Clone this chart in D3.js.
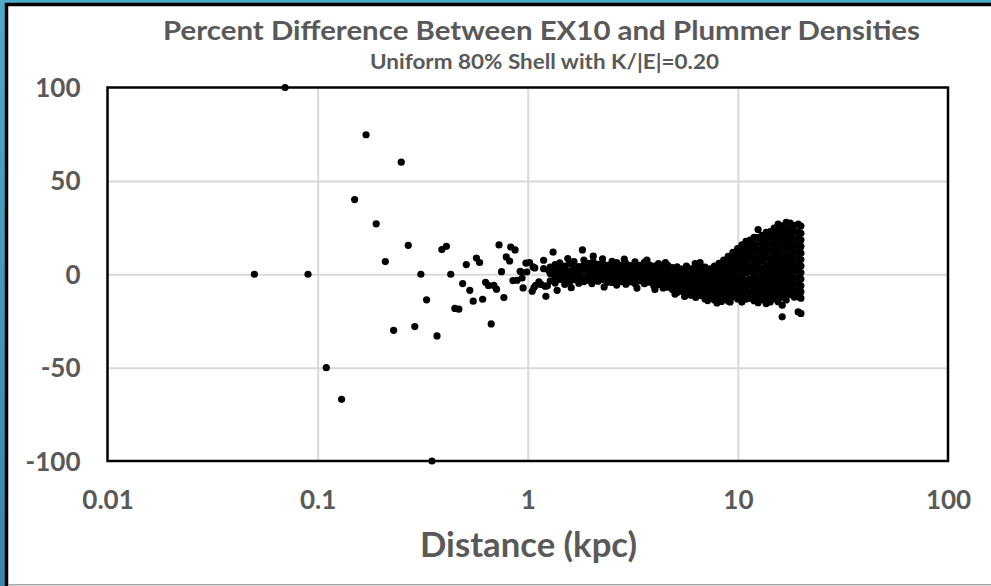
<!DOCTYPE html>
<html>
<head>
<meta charset="utf-8">
<script src="https://cdn.jsdelivr.net/npm/d3@7"></script>
<style>
  html, body { margin: 0; padding: 0; background: #ffffff; }
  svg { display: block; }
</style>
</head>
<body>
<script>
// ---- chart text ----
const titleText = "Percent Difference Between EX10 and Plummer Densities";
const subtitleText = "Uniform 80% Shell with K/|E|=0.20";
const xAxisTitle = "Distance (kpc)";

// ---- axis ticks ----
const xTicks = [0.01, 0.1, 1, 10, 100];
const xTickLabels = ["0.01", "0.1", "1", "10", "100"];
const yTicks = [-100, -50, 0, 50, 100];
const yTickLabels = ["-100", "-50", "0", "50", "100"];

// ---- data: [distance (kpc), percent difference] ----
// sparse inner region
const innerPoints = [
  [0.05, 0], [0.07, 100], [0.09, 0], [0.11, -50], [0.13, -67], [0.15, 40],
  [0.17, 74.7], [0.19, 27], [0.21, 6.8], [0.23, -30], [0.25, 60], [0.27, 15.5],
  [0.29, -28], [0.31, 0], [0.33, -13.7], [0.35, -100], [0.37, -33], [0.39, 13.2],
  [0.41, 15], [0.43, 0], [0.45, -18.3], [0.47, -18.7], [0.49, -5], [0.51, 5.2],
  [0.53, -8.6], [0.55, -14.4], [0.57, 8.7], [0.59, 6.3], [0.61, -13.4], [0.63, -4.3],
  [0.65, -6], [0.67, -26.6], [0.69, -6], [0.71, -8], [0.73, 15.7], [0.75, 1.4],
  [0.77, -12.5], [0.79, 9.3], [0.82, 7.1], [0.83, 14.6], [0.85, -3.4], [0.87, 13],
  [0.89, -3.2], [0.92, 1.6], [0.93, 1.2], [0.94, -2], [0.95, -7.3], [0.98, 6], [0.99, 1.2]
];

// points around 1 kpc and scattered outliers along the band
const transitionPoints = [
  [1.02, 6.3], [1.05, -9.1], [1.06, 3.9], [1.07, -7.1], [1.08, 3.4], [1.09, -5.9],
  [1.13, -4.1], [1.14, -5], [1.16, -5.5], [1.19, 7.5], [1.19, 3], [1.21, -6.4],
  [1.22, -11.8], [1.24, -6.2], [1.26, 2], [1.32, 11.8], [1.34, 1.2], [1.38, -8.6],
  [1.42, 3.9], [1.48, -0.5], [1.55, 8.4], [1.61, -7.2], [1.82, 13], [2.02, -5],
  [2.31, -6.8], [2.88, 8.1], [3.31, -7.4], [3.69, 7.6], [4.03, -8.2], [4.52, 6.2],
  [5.02, -10.6], [5.58, -11.9], [6.26, 5.7], [6.61, 6.3], [7.18, -14.1],
  [7.95, -15.4], [8.35, -14.6], [9.18, -14.8]
];

// dense band, 1.3 - 10 kpc: [distance, [percent differences]]
const bandPoints = [
  [1.28, [3.8, 0.4, -3.6]],
  [1.35, [5.2, 2.1, -1.3, -4.7]],
  [1.42, [6.1, 2.9, -0.2, -2.8]],
  [1.5,  [4.4, 1.2, -2.3, -5.4]],
  [1.58, [5.7, 1.8, -1.6, -4.1]],
  [1.66, [6.8, 3.3, 0.2, -2.9]],
  [1.75, [4.1, 0.9, -2.2, -4.8]],
  [1.85, [7.6, 4.8, 2.2, -1.4, -3.9]],
  [1.95, [5.9, 3.1, -0.3, -3.2]],
  [2.05, [9.7, 6.6, 3.9, 1.2, -1.8]],
  [2.16, [5.3, 2.4, -0.6, -3.7]],
  [2.27, [8.3, 5.8, 2.9, 0.1, -2.7]],
  [2.39, [4.7, 1.9, -1.2, -4.3]],
  [2.52, [6.9, 3.8, 1.1, -1.9, -4.4]],
  [2.65, [6.3, 3.4, 0.6, -2.6, -5.8]],
  [2.79, [4.9, 2.1, -0.8, -3.9]],
  [2.93, [5.8, 2.7, -0.2, -3.1, -5.3]],
  [3.08, [4.6, 1.3, -1.7, -4.1]],
  [3.24, [6.7, 3.9, 0.8, -2.2, -4.9]],
  [3.41, [4.8, 1.7, -1.1, -3.6]],
  [3.59, [6.4, 3.2, 0.4, -2.4, -5.1]],
  [3.78, [5.1, 1.8, -1.3, -4.2]],
  [3.98, [4.3, 1.4, -1.6, -4.4, -6.1]],
  [4.19, [5.7, 2.8, -0.1, -3.2, -5.6]],
  [4.41, [4.2, 0.9, -2.1, -5.2, -7.3]],
  [4.64, [4.8, 1.8, -1.2, -4.1, -6.9]],
  [4.88, [3.6, 0.3, -2.7, -5.6, -8.2]],
  [5.14, [3.9, 0.8, -2.3, -5.1, -7.7, -9.8]],
  [5.41, [2.8, -0.2, -3.1, -6.2, -9.1]],
  [5.69, [4.3, 1.3, -1.7, -4.6, -7.4, -10.3]],
  [5.99, [2.9, -0.1, -3.2, -6.1, -8.8, -11.2]],
  [6.3,  [5.2, 2.3, -0.6, -3.4, -6.7, -9.6, -12.4]],
  [6.63, [3.3, 0.4, -2.7, -5.7, -8.6, -11.4]],
  [6.98, [3.8, 0.9, -2.1, -5.2, -8.1, -10.9, -13.2]],
  [7.34, [2.9, -0.2, -3.2, -6.1, -9.2, -12.3]],
  [7.73, [4.4, 1.3, -1.6, -4.7, -7.6, -10.4, -13.8]],
  [8.13, [5.8, 2.7, -0.3, -3.1, -6.2, -9.1, -12.2]],
  [8.56, [7.6, 4.8, 1.9, -1.2, -4.1, -7.2, -10.1, -13.1]],
  [9.0,  [9.6, 6.8, 3.7, 0.8, -2.2, -5.1, -8.3, -11.2, -14.3]],
  [9.47, [11.7, 8.8, 5.9, 2.8, -0.3, -3.2, -6.1, -9.2, -12.1]],
  [9.97, [13.8, 10.9, 7.8, 4.9, 1.8, -1.1, -4.2, -7.1, -10.2, -13.2]]
];

// outer cloud, 10 - 20 kpc
const outerPoints = [
  [10.45, [15.8, 12.3, 8.9, 5.6, 2.1, -1.4, -4.9, -8.6, -11.8, -14.9]],
  [10.93, [17.6, 14.2, 10.8, 7.3, 3.9, 0.6, -3.1, -6.4, -9.8, -13.3]],
  [11.42, [18.3, 14.9, 11.4, 8.1, 4.4, 1.2, -2.6, -5.9, -9.4, -12.8]],
  [11.94, [19.8, 16.4, 12.9, 9.3, 6.1, 2.6, -0.9, -4.4, -7.9, -11.3, -14.2]],
  [12.48, [23.9, 19.6, 15.8, 12.4, 8.9, 5.4, 2.1, -1.6, -4.9, -8.4, -11.9, -15.2]],
  [13.04, [20.8, 17.4, 13.9, 10.6, 7.1, 3.3, 0.2, -3.4, -6.8, -10.3, -13.6]],
  [13.63, [22.4, 18.9, 15.3, 11.8, 8.6, 4.9, 1.6, -1.9, -5.4, -8.8, -12.4, -15.7]],
  [14.24, [22.9, 19.3, 16.1, 12.4, 8.8, 5.6, 2.2, -1.3, -4.8, -8.3, -11.7, -14.8]],
  [14.88, [24.7, 21.3, 17.8, 14.4, 10.9, 7.4, 4.1, 0.7, -2.8, -6.3, -9.7, -13.2]],
  [15.55, [26.8, 23.2, 19.8, 16.3, 12.8, 9.4, 5.9, 2.6, -0.8, -4.3, -7.8, -11.4, -14.7]],
  [16.25, [25.9, 22.3, 18.8, 15.4, 11.9, 8.3, 4.8, 1.4, -2.1, -5.3, -8.9, -12.3, -16.6, -22.8]],
  [16.98, [27.8, 24.3, 20.8, 17.3, 13.8, 10.4, 6.9, 3.4, -0.1, -3.6, -7.1, -10.6, -13.8]],
  [17.74, [27.4, 23.8, 20.3, 16.8, 13.4, 9.8, 6.3, 2.8, -0.6, -4.1, -7.4, -10.8]],
  [18.54, [26.1, 22.6, 18.9, 15.6, 12.1, 8.4, 4.9, 1.6, -1.9, -5.4, -8.8, -12.2]],
  [19.37, [26.9, 22.9, 19.4, 15.8, 12.4, 8.9, 5.3, 1.9, -1.6, -5.1, -8.6, -12.1, -20.2]],
  [19.95, [25.8, 21.9, 18.4, 14.9, 11.3, 7.9, 4.4, 0.9, -2.6, -6.2, -9.4, -12.8, -21.0]]
];

// ---- layout ----
const W = 991, H = 586;
const plot = { left: 107.5, right: 948, top: 87.5, bottom: 461 };
const textColor = "#595959";
const fontFamily = "Lato, 'Open Sans', 'Liberation Sans', sans-serif";

const svg = d3.select("body").append("svg")
  .attr("width", W).attr("height", H);

// page frame
const defs = svg.append("defs");
const grad = defs.append("linearGradient").attr("id", "frameBlue")
  .attr("x1", 0).attr("y1", 0).attr("x2", 0).attr("y2", 1);
grad.append("stop").attr("offset", "0%").attr("stop-color", "#4cabc8");
grad.append("stop").attr("offset", "100%").attr("stop-color", "#3a86a9");
svg.append("rect").attr("x", 0).attr("y", 0).attr("width", W).attr("height", H)
  .attr("fill", "url(#frameBlue)");
svg.append("rect").attr("x", 6.5).attr("y", 4.5).attr("width", W + 20).attr("height", H + 20)
  .attr("fill", "#ffffff").attr("stroke", "#000000").attr("stroke-width", 3.5);
svg.append("line").attr("x1", 8).attr("x2", W).attr("y1", 584.8).attr("y2", 584.8)
  .attr("stroke", "#a6a6a6").attr("stroke-width", 1.5);

// ---- scales ----
const x = d3.scaleLog().domain([0.01, 100]).range([plot.left, plot.right]);
const y = d3.scaleLinear().domain([-100, 100]).range([plot.bottom, plot.top]);

// gridlines
const gridX = svg.append("g")
  .attr("transform", `translate(0,${plot.bottom})`)
  .call(d3.axisBottom(x).tickValues(xTicks.slice(1, -1))
    .tickSize(-(plot.bottom - plot.top)).tickFormat(""));
const gridY = svg.append("g")
  .attr("transform", `translate(${plot.left},0)`)
  .call(d3.axisLeft(y).tickValues(yTicks.slice(1, -1))
    .tickSize(-(plot.right - plot.left)).tickFormat(""));
[gridX, gridY].forEach(g => {
  g.select(".domain").remove();
  g.selectAll(".tick line").attr("stroke", "#d9d9d9").attr("stroke-width", 2);
});

// plot border
svg.append("rect")
  .attr("x", plot.left).attr("y", plot.top)
  .attr("width", plot.right - plot.left).attr("height", plot.bottom - plot.top)
  .attr("fill", "none").attr("stroke", "#000000").attr("stroke-width", 2.5);

// tick labels
const xAxis = svg.append("g")
  .attr("transform", `translate(0,${plot.bottom})`)
  .call(d3.axisBottom(x).tickValues(xTicks).tickSize(0).tickPadding(0)
    .tickFormat((d, i) => xTickLabels[i]));
xAxis.select(".domain").remove();
xAxis.selectAll("text")
  .attr("y", 39).attr("dy", "0.35em")
  .attr("fill", textColor).style("font", `bold 26px ${fontFamily}`);

const yAxis = svg.append("g")
  .attr("transform", `translate(${plot.left},0)`)
  .call(d3.axisLeft(y).tickValues(yTicks).tickSize(0).tickPadding(0)
    .tickFormat((d, i) => yTickLabels[yTicks.indexOf(d)]));
yAxis.select(".domain").remove();
yAxis.selectAll("text")
  .attr("x", -27).attr("dy", "0.35em")
  .attr("fill", textColor).style("font", `bold 26px ${fontFamily}`);

// ---- points ----
const flatten = groups => groups.flatMap(([r, ds]) => ds.map(d => [r, d]));
const allPoints = innerPoints
  .concat(transitionPoints)
  .concat(flatten(bandPoints))
  .concat(flatten(outerPoints));

svg.append("g").selectAll("circle")
  .data(allPoints)
  .join("circle")
  .attr("cx", d => x(d[0]))
  .attr("cy", d => y(d[1]))
  .attr("r", 3.6)
  .attr("fill", "#000000");

// ---- titles ----
function fitText(sel, width) {
  sel.attr("textLength", width).attr("lengthAdjust", "spacingAndGlyphs");
}
const title = svg.append("text")
  .attr("x", 541.5).attr("y", 40)
  .attr("text-anchor", "middle")
  .attr("fill", textColor)
  .style("font", `bold 27px ${fontFamily}`)
  .text(titleText);
fitText(title, 757);

const subtitle = svg.append("text")
  .attr("x", 544.5).attr("y", 69)
  .attr("text-anchor", "middle")
  .attr("fill", textColor)
  .style("font", `bold 21px ${fontFamily}`)
  .text(subtitleText);
fitText(subtitle, 349);

const xTitle = svg.append("text")
  .attr("x", 528.5).attr("y", 557)
  .attr("text-anchor", "middle")
  .attr("fill", textColor)
  .style("font", `bold 34px ${fontFamily}`)
  .text(xAxisTitle);
fitText(xTitle, 217);
</script>
</body>
</html>
